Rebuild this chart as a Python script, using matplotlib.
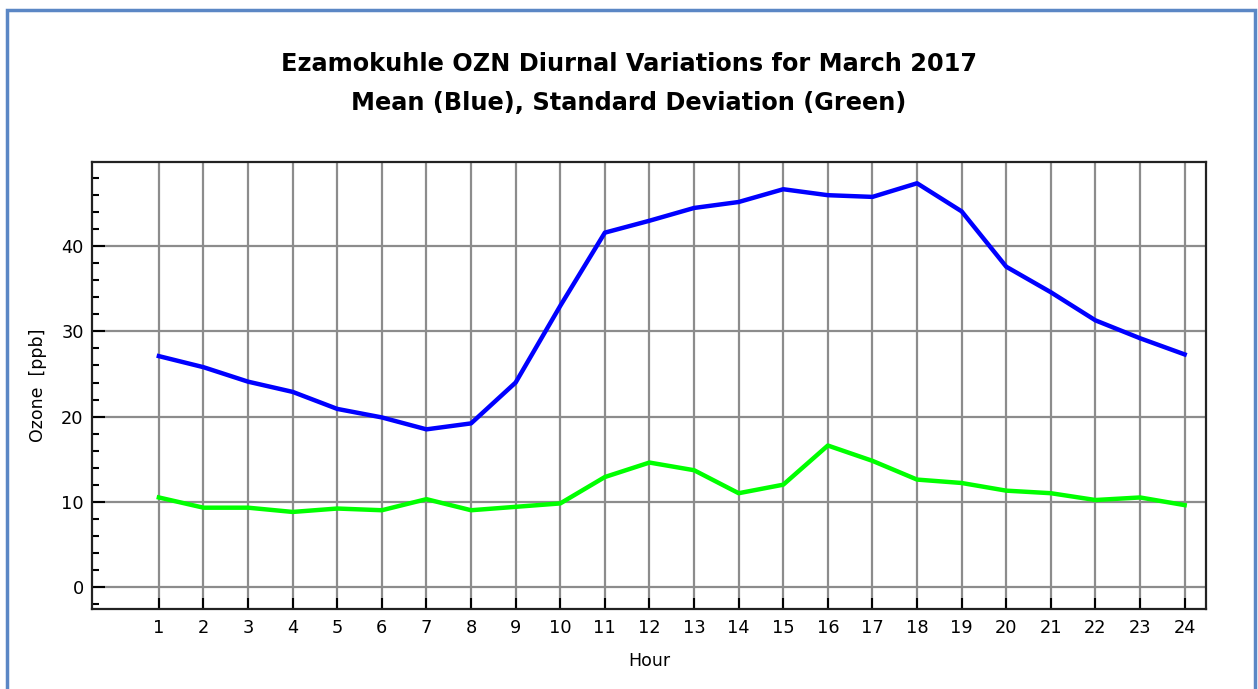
import matplotlib.pyplot as plt
from matplotlib.patches import Rectangle
from matplotlib.ticker import MultipleLocator

# ==========================================================
# DATA
# ==========================================================

HOURS = list(range(1, 25))

MEAN_OZONE = [27.1, 25.8, 24.1, 22.9, 20.9, 19.9, 18.5, 19.2, 24.0, 33.0,
              41.6, 43.0, 44.5, 45.2, 46.7, 46.0, 45.8, 47.4, 44.1, 37.6,
              34.6, 31.3, 29.2, 27.3]

STD_OZONE = [10.5, 9.3, 9.3, 8.8, 9.2, 9.0, 10.3, 9.0, 9.4, 9.8,
             12.9, 14.6, 13.7, 11.0, 12.0, 16.6, 14.8, 12.6, 12.2, 11.3,
             11.0, 10.2, 10.5, 9.6]

Y_TICKS = [0, 10, 20, 30, 40]

TITLE_1 = "Ezamokuhle OZN Diurnal Variations for March 2017"
TITLE_2 = "Mean (Blue), Standard Deviation (Green)"


# ==========================================================
# PLOT
# ==========================================================

def main():

    fig = plt.figure(figsize=(12.58, 6.89), dpi=100)

    # blue frame round the picture
    fig.patches.append(Rectangle(
        (0.0055, -0.05), 0.9925, 1.036,
        transform=fig.transFigure, fill=False,
        edgecolor="#5b87c5", linewidth=2.5
    ))

    ax = fig.add_axes([0.0731, 0.1161, 0.8856, 0.6488])

    ax.plot(HOURS, MEAN_OZONE, color="#0000ff", linewidth=3.2, zorder=3)
    ax.plot(HOURS, STD_OZONE, color="#00ff00", linewidth=3.2, zorder=3)

    ax.set_xlim(-0.5, 24.48)
    ax.set_ylim(-2.6, 49.9)

    ax.set_xticks(HOURS)
    ax.set_yticks(Y_TICKS)
    ax.yaxis.set_minor_locator(MultipleLocator(2))

    ax.grid(True, which="major", color="#8c8c8c", linewidth=1.6)
    ax.set_axisbelow(True)

    ax.tick_params(axis="both", which="both", direction="in",
                   labelsize=12.8, colors="black")
    ax.tick_params(axis="y", which="major", length=9, width=1.5, pad=6)
    ax.tick_params(axis="y", which="minor", length=5, width=1.5)
    ax.tick_params(axis="x", which="major", length=8, width=1.5, pad=7)

    for spine in ax.spines.values():
        spine.set_linewidth(1.6)
        spine.set_color("#222222")

    ax.set_xlabel("Hour", fontsize=12.5, labelpad=11)
    ax.set_ylabel("Ozone  [ppb]", fontsize=12.5, labelpad=10)

    fig.text(0.5, 1 - 64 / 689, TITLE_1, ha="center", va="center",
             fontsize=17.3, fontweight="bold", family="DejaVu Sans")
    fig.text(0.5, 1 - 103 / 689, TITLE_2, ha="center", va="center",
             fontsize=17.3, fontweight="bold", family="DejaVu Sans")

    fig.savefig("out.png", dpi=100)


if __name__ == "__main__":

    main()
